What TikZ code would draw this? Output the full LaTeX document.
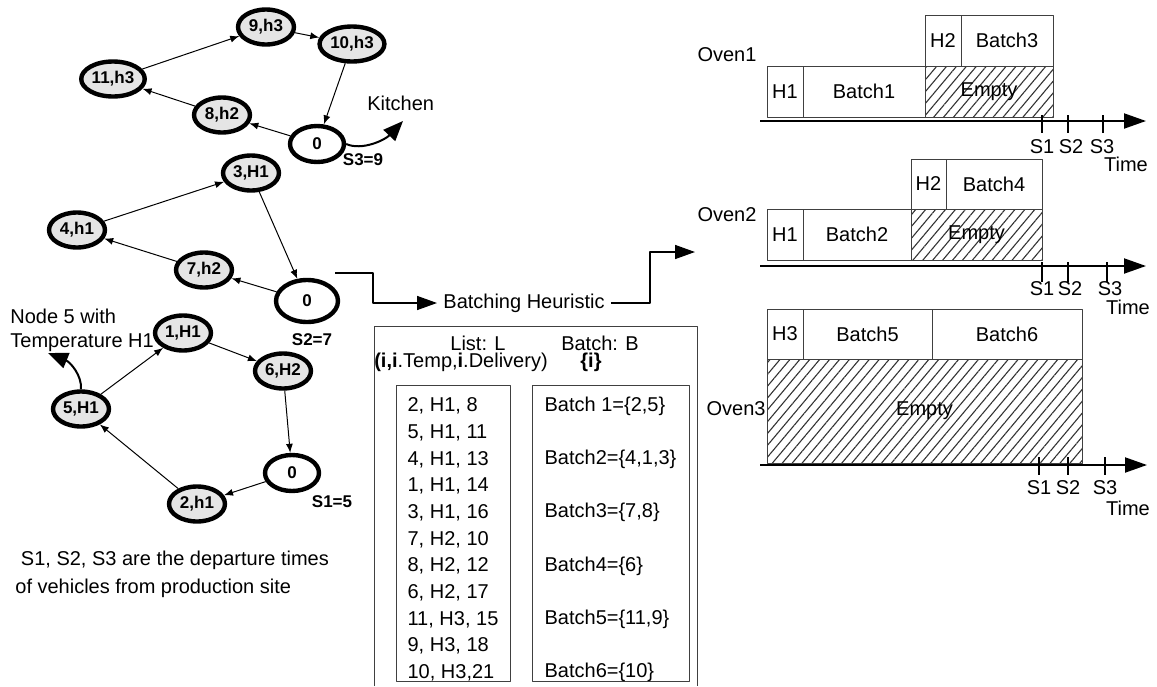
\documentclass[tikz,border=0pt]{standalone}
\usepackage{fontspec}
\setmainfont{Liberation Sans}
\usetikzlibrary{arrows.meta}
\usetikzlibrary{shapes, patterns.meta}

\begin{document}
\begin{tikzpicture}[>=latex,line join=bevel,x=0.5pt,y=-0.5pt,
  txt/.style={font=\fontsize{10}{12}\selectfont,inner sep=0pt},
  cust/.style={ellipse,draw,line width=2.2pt,fill=black!10,inner sep=0.6pt,minimum width=28pt,minimum height=17.5pt,font=\fontsize{8.5}{10}\selectfont\bfseries},
  depot/.style={cust,fill=white,minimum width=27pt,minimum height=18pt},
  slbl/.style={font=\fontsize{8.5}{10}\selectfont\bfseries,inner sep=0pt},
  hop/.style={line width=0.5pt,-{Latex[length=4.5pt,width=3.5pt]}},
  curvy/.style={line width=1pt,-{Triangle[length=10pt,width=8pt]}},
  flowline/.style={line width=0.75pt,-{Triangle[length=10pt,width=7pt]}},
  timeline/.style={line width=1pt,-{Triangle[length=11pt,width=7.5pt]}},
  tick/.style={line width=0.75pt},
  listbox/.style={draw=black!75,line width=0.5pt,inner sep=0pt},
  slot/.style={draw=black!75,line width=0.5pt,inner sep=0pt,font=\fontsize{10}{12}\selectfont},
  idle/.style={slot,pattern={Lines[angle=50,distance=3.8pt,line width=0.55pt]},pattern color=black!80},
]
\useasboundingbox (0,0) rectangle (1157,686);
%% tours of the vehicles
\node (node_d3) at (317,144) [depot] {0};
  \node (node_8) at (222,115) [cust] {8,h2};
  \node (node_11) at (113,79) [cust] {11,h3};
  \node (node_9) at (266,27) [cust] {9,h3};
  \node (node_10) at (352,44) [cust] {10,h3};
  \node (lbl_s3) at (363,160) [slbl] {S3=9};
  \node (kitchen) at (367,103) [txt,anchor=west] {Kitchen};
  \coordinate (kit) at (403,121);
  \draw [hop] (node_d3) -- (node_8);
  \draw [hop] (node_8) -- (node_11);
  \draw [hop] (node_11) -- (node_9);
  \draw [hop] (node_9) -- (node_10);
  \draw [hop] (node_10) -- (node_d3);
  \draw [curvy] (node_d3.east) ..controls (362,151) and (385,140) .. (kit);
%
\node (node_d2) at (307,301) [depot,minimum width=31pt,minimum height=21pt] {0};
  \node (node_7) at (204,270) [cust] {7,h2};
  \node (node_4) at (77,230) [cust] {4,h1};
  \node (node_3) at (251,173) [cust] {3,H1};
  \node (lbl_s2) at (312,340) [slbl] {S2=7};
  \draw [hop] (node_d2) -- (node_7);
  \draw [hop] (node_7) -- (node_4);
  \draw [hop] (node_4) -- (node_3);
  \draw [hop] (node_3) -- (node_d2);
%
\node (note5) at (10,330) [txt,anchor=west,align=left] {Node 5 with\\Temperature H1};
  \coordinate (tip5) at (48,353);
\node (node_d1) at (292,473) [depot] {0};
  \node (node_2) at (197,504) [cust] {2,h1};
  \node (node_5) at (81,409) [cust] {5,H1};
  \node (node_1) at (183,333) [cust] {1,H1};
  \node (node_6) at (283,371) [cust] {6,H2};
  \node (lbl_s1) at (332,502) [slbl] {S1=5};
  \draw [hop] (node_d1) -- (node_2);
  \draw [hop] (node_2) -- (node_5);
  \draw [hop] (node_5) -- (node_1);
  \draw [hop] (node_1) -- (node_6);
  \draw [hop] (node_6) -- (node_d1);
  \draw [curvy] (node_5.north) ..controls (82,375) and (70,362) .. (tip5);
%
\node (note_s) at (15,574) [txt,anchor=west,align=left,font=\fontsize{10}{14}\selectfont] {\ S1, S2, S3 are the departure times\\of vehicles from production site};
%% batching heuristic
\coordinate (bh_in) at (335,273);
  \coordinate (bh_out) at (695,252);
  \node (heur) at (524,303) [txt,inner sep=3pt] {Batching Heuristic};
  \draw [flowline] (bh_in) -| (373,303) -- (heur.west);
  \draw [flowline] (heur.east) -| (650,252) -- (bh_out);
\draw [listbox] (374,686) -- (374,326) -- (697,326) -- (697,686);
  \node (hd_list) at (478,343) [txt] {List: L};
  \node (hd_batch) at (600,343) [txt] {Batch: B};
  \node (hd_tuple) at (461,362) [txt] {\textbf{(i,i}.Temp,\textbf{i}.Delivery)};
  \node (hd_set) at (591,362) [txt] {\textbf{\{i\}}};
  \node (list_l) at (453,533.5) [listbox,minimum width=57pt,minimum height=143.5pt,align=left,font=\fontsize{10}{13.33}\selectfont] {\rule{0pt}{13pt}2, H1, 8\\5, H1, 11\\4, H1, 13\\1, H1, 14\\3, H1, 16\\7, H2, 10\\8, H2, 12\\6, H2, 17\\11, H3, 15\\9, H3, 18\\10, H3,21};
  \node (list_b) at (610.5,533.5) [listbox,minimum width=78.5pt,minimum height=143.5pt,align=left,font=\fontsize{10}{13.33}\selectfont] {\rule{0pt}{13pt}Batch 1=\{2,5\}\\[13.33pt]Batch2=\{4,1,3\}\\[13.33pt]Batch3=\{7,8\}\\[13.33pt]Batch4=\{6\}\\[13.33pt]Batch5=\{11,9\}\\[13.33pt]Batch6=\{10\}};
%% ovens
\node (ov1) at (727,55) [txt] {Oven1};
  \node (ov1_h1) at (785,91.5) [slot,minimum width=18pt,minimum height=25.5pt] {H1};
  \node (ov1_b1) at (864,91.5) [slot,minimum width=61pt,minimum height=25.5pt] {Batch1};
  \node (ov1_e) at (989,91.5) [idle,minimum width=64pt,minimum height=25.5pt] {Empty};
  \node (ov1_h2) at (943,40.5) [slot,minimum width=18pt,minimum height=25.5pt] {H2};
  \node (ov1_b3) at (1007,40.5) [slot,minimum width=46pt,minimum height=25.5pt] {Batch3};
  \draw [timeline] (760,121) -- (1146,121);
  \draw [tick] (1042,115) -- (1042,133);
  \draw [tick] (1068,115) -- (1068,133);
  \draw [tick] (1103,115) -- (1103,133);
  \node (ov1_s1) at (1042,147) [txt] {S1};
  \node (ov1_s2) at (1071,147) [txt] {S2};
  \node (ov1_s3) at (1102,147) [txt] {S3};
  \node (ov1_t) at (1126,164) [txt] {Time};
%
\node (ov2) at (727,215) [txt] {Oven2};
  \node (ov2_h2) at (928.5,184) [slot,minimum width=17.5pt,minimum height=25pt] {H2};
  \node (ov2_b4) at (994,184) [slot,minimum width=48pt,minimum height=25pt] {Batch4};
  \node (ov2_h1) at (785,234.5) [slot,minimum width=18pt,minimum height=25.5pt] {H1};
  \node (ov2_b2) at (857,234.5) [slot,minimum width=54pt,minimum height=25.5pt] {Batch2};
  \node (ov2_e) at (976.5,234.5) [idle,minimum width=65.5pt,minimum height=25.5pt] {Empty};
  \draw [timeline] (760,266) -- (1146,266);
  \draw [tick] (1042,262) -- (1042,282);
  \draw [tick] (1068,262) -- (1068,282);
  \draw [tick] (1107,262) -- (1107,282);
  \node (ov2_s1) at (1042,289) [txt] {S1};
  \node (ov2_s2) at (1070,289) [txt] {S2};
  \node (ov2_s3) at (1110,289) [txt] {S3};
  \node (ov2_t) at (1128,307) [txt] {Time};
%
\node (ov3) at (766,409) [txt,anchor=east] {Oven3};
  \node (ov3_h3) at (785,334) [slot,minimum width=18pt,minimum height=25pt] {H3};
  \node (ov3_b5) at (867.5,334) [slot,minimum width=64.5pt,minimum height=25pt] {Batch5};
  \node (ov3_b6) at (1007,334) [slot,minimum width=75pt,minimum height=25pt] {Batch6};
  \node (ov3_e) at (924.5,411) [idle,minimum width=157.5pt,minimum height=52pt] {Empty};
  \draw [timeline] (760,465) -- (1147,465);
  \draw [tick] (1039,457) -- (1039,475);
  \draw [tick] (1068,457) -- (1068,475);
  \draw [tick] (1105,457) -- (1105,475);
  \node (ov3_s1) at (1039,488) [txt] {S1};
  \node (ov3_s2) at (1068,488) [txt] {S2};
  \node (ov3_s3) at (1105,488) [txt] {S3};
  \node (ov3_t) at (1128,508) [txt] {Time};
%
\end{tikzpicture}
\end{document}
